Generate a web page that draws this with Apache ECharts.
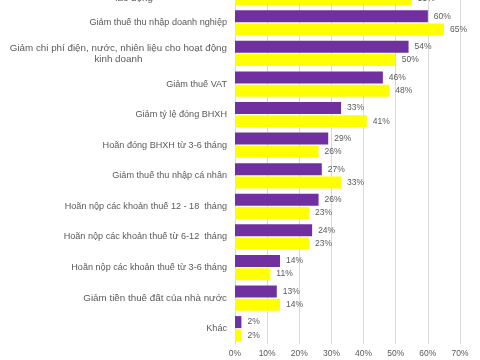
<!DOCTYPE html>
<html>
<head>
<meta charset="utf-8">
<script src="https://cdn.jsdelivr.net/npm/echarts@6/dist/echarts.min.js"></script>
<style>
  html, body { margin: 0; padding: 0; background: #fff; }
  #chart { width: 480px; height: 360px; }
</style>
</head>
<body>
<div id="chart"></div>
<script>
// danh mục (hàng đầu bị cắt mất một phần trong ảnh gốc)
const categories = [
  'Hỗ trợ chi phí trả lương, trợ cấp cho người\nlao động',
  'Giảm thuế thu nhập doanh nghiệp',
  'Giảm chi phí điện, nước, nhiên liệu cho hoạt động\nkinh doanh',
  'Giảm thuế VAT',
  'Giảm tỷ lệ đóng BHXH',
  'Hoãn đóng BHXH từ 3-6 tháng',
  'Giảm thuế thu nhập cá nhân',
  'Hoãn nộp các khoản thuế 12 - 18  tháng',
  'Hoãn nộp các khoản thuế từ 6-12  tháng',
  'Hoãn nộp các khoản thuế từ 3-6 tháng',
  'Giảm tiền thuê đất của nhà nước',
  'Khác'
]
// những nhãn chữ to hơn
const bigLabels = [0, 2, 10]
const purpleValues = [62, 60, 54, 46, 33, 29, 27, 26, 24, 14, 13, 2]
const yellowValues = [55, 65, 50, 48, 41, 26, 33, 23, 23, 11, 14, 2]
const xTicks = [0, 70, 10]

const myChart = echarts.init(document.getElementById('chart'))

const labelColor = '#595959'
const font = '"Liberation Sans", Arial, sans-serif'

const valueLabel = {
  show: true,
  position: 'right',
  distance: 6,
  color: labelColor,
  fontSize: 8.5,
  fontFamily: font,
  formatter: '{c}%'
}

const option = {
  backgroundColor: '#fff',
  animation: false,
  grid: {
    left: 235,
    right: 20,
    top: -23,
    bottom: 16,
    containLabel: false,
    outerBoundsMode: 'none'
  },
  xAxis: {
    type: 'value',
    min: xTicks[0],
    max: xTicks[1],
    interval: xTicks[2],
    axisLine: { show: false },
    axisTick: { show: false },
    axisLabel: {
      formatter: '{value}%',
      color: labelColor,
      fontSize: 8.5,
      fontFamily: font,
      margin: 5
    },
    splitLine: { lineStyle: { color: '#d9d9d9', width: 1 } }
  },
  yAxis: {
    type: 'category',
    inverse: true,
    data: categories,
    axisLine: { show: false },
    axisTick: { show: false },
    axisLabel: {
      interval: 0,
      margin: 8,
      color: labelColor,
      fontFamily: font,
      formatter: (value, index) => {
        const name = bigLabels.includes(index) ? 'b' : 'n'
        return value.split('\n').map((line) => '{' + name + '|' + line + '}').join('\n')
      },
      rich: {
        n: { fontSize: 9.1, color: labelColor, fontFamily: font, align: 'center', lineHeight: 11 },
        b: { fontSize: 9.8, color: labelColor, fontFamily: font, align: 'center', lineHeight: 11 }
      }
    }
  },
  series: [
    {
      type: 'bar',
      data: purpleValues,
      barWidth: 12,
      barGap: '10%',
      itemStyle: { color: '#7030a0' },
      label: valueLabel
    },
    {
      type: 'bar',
      data: yellowValues,
      barWidth: 12,
      itemStyle: { color: '#ffff00' },
      label: valueLabel
    }
  ]
}

myChart.setOption(option)
</script>
</body>
</html>
